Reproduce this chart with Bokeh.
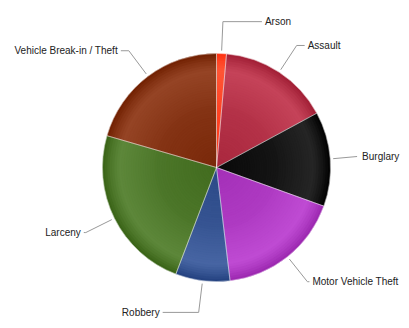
import math
from bokeh.plotting import figure
from bokeh.models import Range1d, ColumnDataSource
from bokeh.core.properties import value
from bokeh.embed import file_html
from bokeh.resources import INLINE

# ---- data ----
categories = ["Arson", "Assault", "Burglary", "Motor Vehicle Theft",
              "Robbery", "Larceny", "Vehicle Break-in / Theft"]
shares = [1.4, 15.7, 13.4, 17.6, 7.7, 23.7, 20.5]
base_colors = ["#FF3010", "#A01E34", "#000000", "#9A26AE",
               "#22407E", "#386215", "#701F00"]
# horizontal connector segment length per label (layout)
label_gap = [39, 8, -3, 2, 36, 2, 8]

# ---- layout (1 data unit = 1 px, y up; page y = 328 - data y) ----
W, H = 409, 328
CX, CY, R = 216, 328 - 167, 114
DIST = 32

p = figure(width=W, height=H, output_backend="svg", toolbar_location=None,
           x_range=Range1d(0, W), y_range=Range1d(328 - H, 328),
           min_border=0)
p.axis.visible = False
p.grid.visible = False
p.outline_line_color = None
p.background_fill_color = "white"
p.border_fill_color = "white"

total = sum(shares)
starts, ends = [], []
acc = 0.0
for s in shares:
    starts.append(acc / total * 2 * math.pi)
    acc += s
    ends.append(acc / total * 2 * math.pi)


def hex2rgb(h):
    h = h.lstrip("#")
    return [int(h[i:i + 2], 16) for i in (0, 2, 4)]


def brighten(h, a):
    r = hex2rgb(h)
    return "#%02x%02x%02x" % tuple(max(0, min(255, int(c + 255 * a))) for c in r)


# radial brightness profile
stops = [(0.0, 0.04), (0.5, 0.08), (0.85, 0.15), (0.93, 0.08), (1.0, 0.0)]


def prof(t):
    for (t0, v0), (t1, v1) in zip(stops[:-1], stops[1:]):
        if t0 <= t <= t1:
            return v0 + (v1 - v0) * (t - t0) / (t1 - t0)
    return 0.0


N = 48
xs, ys, rs, sa, ea, cols = [], [], [], [], [], []
for k in range(N, 0, -1):
    rk = R * k / N
    tmid = (k - 0.5) / N
    for i in range(len(categories)):
        xs.append(CX)
        ys.append(CY)
        rs.append(rk)
        sa.append(math.pi / 2 - ends[i])
        ea.append(math.pi / 2 - starts[i])
        cols.append(brighten(base_colors[i], prof(tmid)))

src = ColumnDataSource(dict(x=xs, y=ys, r=rs, sa=sa, ea=ea, c=cols))
p.wedge(x="x", y="y", radius="r", start_angle="sa", end_angle="ea",
        fill_color="c", line_color="c", line_width=0.3, source=src)

# slice borders
bsrc = ColumnDataSource(dict(
    x=[CX] * len(categories), y=[CY] * len(categories),
    sa=[math.pi / 2 - e for e in ends], ea=[math.pi / 2 - s for s in starts]))
p.wedge(x="x", y="y", radius=R, start_angle="sa", end_angle="ea",
        fill_alpha=0, line_color="white", line_width=0.6, line_alpha=0.6,
        source=bsrc)

# connectors + labels
lx, ly = [], []
tx, ty, tt, ta = [], [], [], []
for i, name in enumerate(categories):
    mid = (starts[i] + ends[i]) / 2
    sn, cs = math.sin(mid), math.cos(mid)
    x0, y0 = CX + (R + 3) * sn, CY + (R + 3) * cs
    x1, y1 = CX + (R + DIST) * sn, CY + (R + DIST) * cs
    right = sn >= 0
    x2 = x1 + (label_gap[i] if right else -label_gap[i])
    if label_gap[i] > 0:
        lx.append([x0, x1, x2])
        ly.append([y0, y1, y1])
    else:
        lx.append([x0, x2 - (2 if right else -2)])
        ly.append([y0, y1])
    tx.append(x2 + (3 if right else -3))
    ty.append(y1)
    tt.append(name)
    ta.append("left" if right else "right")

p.multi_line(xs=lx, ys=ly, line_color="#999999", line_width=1)
p.text(x=tx, y=ty, text=tt, text_align=ta, text_baseline="middle",
       text_font=value("Liberation Sans"), text_font_size="10px",
       text_color="#222222")

open("out.html", "w").write(file_html(p, INLINE))
